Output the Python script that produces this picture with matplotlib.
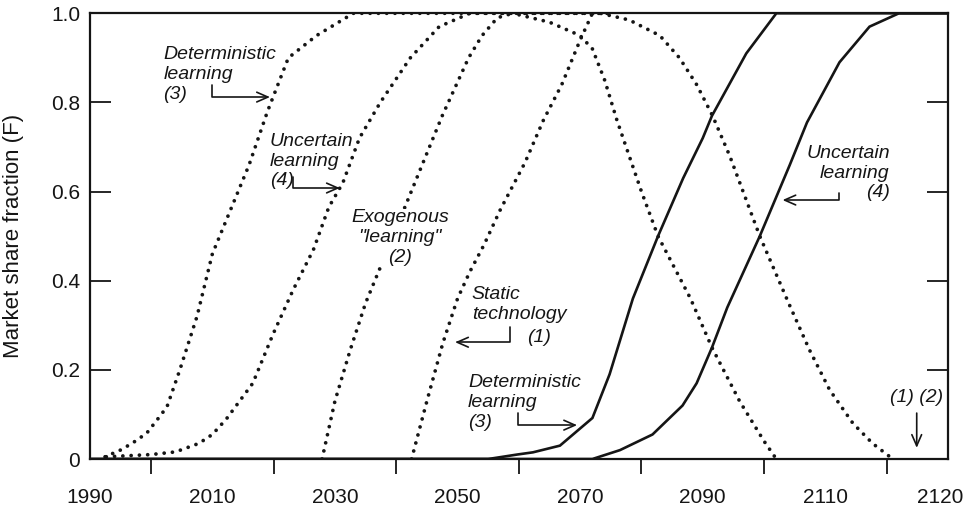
import matplotlib
matplotlib.use("Agg")
import matplotlib.pyplot as plt
import numpy as np

plt.rcParams['font.family'] = ['Liberation Sans', 'DejaVu Sans']

# ---------------- data ----------------
# dotted curves: market share of the first (old) technology paths
det_dot_years = [1992.5, 1995, 1997, 1999.3, 2001, 2002.6, 2004.7, 2007.5, 2010, 2013, 2016,
                 2019, 2022.4, 2027, 2033, 2059, 2065, 2070, 2072, 2074, 2076, 2078, 2080,
                 2082.7, 2088, 2091.5, 2096, 2100, 2102]
det_dot_vals = [0.005, 0.02, 0.036, 0.058, 0.088, 0.117, 0.20, 0.32, 0.46, 0.56, 0.66,
                0.78, 0.90, 0.95, 1.0, 1.0, 0.98, 0.95, 0.92, 0.85, 0.76, 0.68, 0.60,
                0.50, 0.36, 0.25, 0.13, 0.04, 0.0]

unc_dot_years = [1992.7, 2000, 2004, 2007.8, 2010, 2012.3, 2016.6, 2019.9, 2023.2, 2026.5,
                 2029, 2031.3, 2034, 2037.4, 2042.3, 2047, 2052, 2073.3, 2078, 2083,
                 2086.2, 2089, 2091.6, 2094.4, 2099.3, 2104, 2107.4, 2110.7, 2114.5,
                 2117.7, 2121]
unc_dot_vals = [0.005, 0.01, 0.016, 0.035, 0.055, 0.09, 0.17, 0.28, 0.38, 0.47,
                0.565, 0.62, 0.72, 0.80, 0.90, 0.97, 1.0, 1.0, 0.985, 0.95,
                0.90, 0.84, 0.77, 0.68, 0.50, 0.35, 0.245, 0.155, 0.08,
                0.035, 0.0]

exo_dot_years = [2027.9, 2030, 2032.5, 2035, 2038, 2042, 2047.5, 2051.8, 2054, 2056.5, 2059, 2075]
exo_dot_vals = [0.0, 0.13, 0.245, 0.35, 0.45, 0.585, 0.77, 0.90, 0.95, 0.99, 1.0, 1.0]

sta_dot_years = [2042.5, 2045, 2047.6, 2050, 2052, 2054.3, 2057, 2061, 2064, 2067, 2070, 2072, 2075]
sta_dot_vals = [0.0, 0.13, 0.26, 0.36, 0.42, 0.48, 0.56, 0.665, 0.76, 0.84, 0.94, 1.0, 1.0]

# solid curves: market share of the new technology
det_sol_years = [1990, 2055, 2059.7, 2062.3, 2066.7, 2072, 2074.8, 2078.6, 2082.7, 2086.8,
                 2090, 2091.5, 2097.1, 2102, 2130]
det_sol_vals = [0.0, 0.0, 0.01, 0.015, 0.03, 0.092, 0.19, 0.36, 0.50, 0.63,
                0.72, 0.77, 0.91, 1.0, 1.0]

unc_sol_years = [1990, 2072, 2076.5, 2081.8, 2086.7, 2089, 2091.5, 2094, 2099.3, 2104.2,
                 2107, 2112.3, 2117.2, 2122, 2130]
unc_sol_vals = [0.0, 0.0, 0.02, 0.055, 0.12, 0.17, 0.25, 0.34, 0.50, 0.66,
                0.755, 0.89, 0.97, 1.0, 1.0]

static_exo_sol_years = [1990, 2130]
static_exo_sol_vals = [0.0, 0.0]

x_tick_labels = ["1990", "2010", "2030", "2050", "2070", "2090", "2110", "2120"]
y_tick_labels = ["0", "0.2", "0.4", "0.6", "0.8", "1.0"]

# ---------------- figure ----------------
ink = '#151515'
fig = plt.figure(figsize=(9.7, 5.09), dpi=100)
ax = fig.add_axes([0.0925, 0.0982, 0.8848, 0.8757])

dot_kw = dict(color=ink, lw=2.7, linestyle=(0, (0.01, 2.2)), dash_capstyle='round')
sol_kw = dict(color=ink, lw=1.9, solid_joinstyle='miter')

for yrs, vals in [(det_dot_years, det_dot_vals), (unc_dot_years, unc_dot_vals),
                  (exo_dot_years, exo_dot_vals), (sta_dot_years, sta_dot_vals)]:
    ax.plot(yrs, vals, **dot_kw)
for yrs, vals in [(det_sol_years, det_sol_vals), (unc_sol_years, unc_sol_vals),
                  (static_exo_sol_years, static_exo_sol_vals)]:
    ax.plot(yrs, vals, **sol_kw)

ax.set_xlim(1990, 2130)
ax.set_ylim(0, 1)

for s in ax.spines.values():
    s.set_linewidth(1.6)
    s.set_color(ink)

ax.set_xticks([1990, 2010, 2030, 2050, 2070, 2090, 2110, 2128.8])
ax.set_xticklabels(x_tick_labels, fontsize=15)
ax.set_xticks(np.arange(2000, 2121, 10), minor=True)
ax.tick_params(axis='x', which='major', length=0, pad=21, colors=ink)
ax.tick_params(axis='x', which='minor', direction='out', length=11, width=1.3, color=ink)

ax.set_yticks([0, 0.2, 0.4, 0.6, 0.8, 1.0])
ax.set_yticklabels(y_tick_labels, fontsize=15)
ax.tick_params(axis='y', direction='in', length=15, width=1.3, right=True,
               labelright=False, pad=7, colors=ink)

ax.set_ylabel("Market share fraction (F)", fontsize=16, color=ink)
ax.yaxis.set_label_coords(-0.077, 0.5)

# ---------------- annotations ----------------
tkw = dict(fontsize=14, style='italic', color=ink, linespacing=1.22)
akw = dict(arrowstyle='->,head_length=0.8,head_width=0.35', color=ink, lw=1.2,
           shrinkA=0, shrinkB=0, connectionstyle='angle,angleA=90,angleB=0,rad=0')

ax.text(2002.0, 0.927, "Deterministic\nlearning\n(3)", ha='left', va='top', **tkw)
ax.annotate("", xy=(2019.4, 0.812), xytext=(2009.9, 0.84), arrowprops=akw)

ax.text(2019.4, 0.732, "Uncertain\nlearning\n(4)", ha='left', va='top', **tkw)
ax.annotate("", xy=(2030.8, 0.608), xytext=(2023.1, 0.633), arrowprops=akw)

ax.text(2040.6, 0.56, "Exogenous\n\"learning\"\n(2)", ha='center', va='top',
        multialignment='center', bbox=dict(facecolor='white', edgecolor='none', pad=0.5), **tkw)

ax.text(2052.3, 0.388, "Static\ntechnology", ha='left', va='top', **tkw)
ax.text(2061.3, 0.292, "(1)", ha='left', va='top', **tkw)
ax.annotate("", xy=(2049.6, 0.262), xytext=(2058.5, 0.297), arrowprops=akw)

ax.text(2051.7, 0.19, "Deterministic\nlearning\n(3)", ha='left', va='top', **tkw)
ax.annotate("", xy=(2069.5, 0.076), xytext=(2059.8, 0.103), arrowprops=akw)

ax.text(2120.5, 0.705, "Uncertain\nlearning\n(4)", ha='right', va='top',
        multialignment='right', **tkw)
ax.annotate("", xy=(2103.0, 0.581), xytext=(2112.3, 0.597), arrowprops=akw)

ax.text(2124.9, 0.157, "(1) (2)", ha='center', va='top', **tkw)
ax.annotate("", xy=(2124.9, 0.025), xytext=(2124.9, 0.103),
            arrowprops=dict(arrowstyle='->,head_length=0.8,head_width=0.35', color=ink,
                            lw=1.2, shrinkA=0, shrinkB=0))

fig.savefig("out.png", dpi=100)
